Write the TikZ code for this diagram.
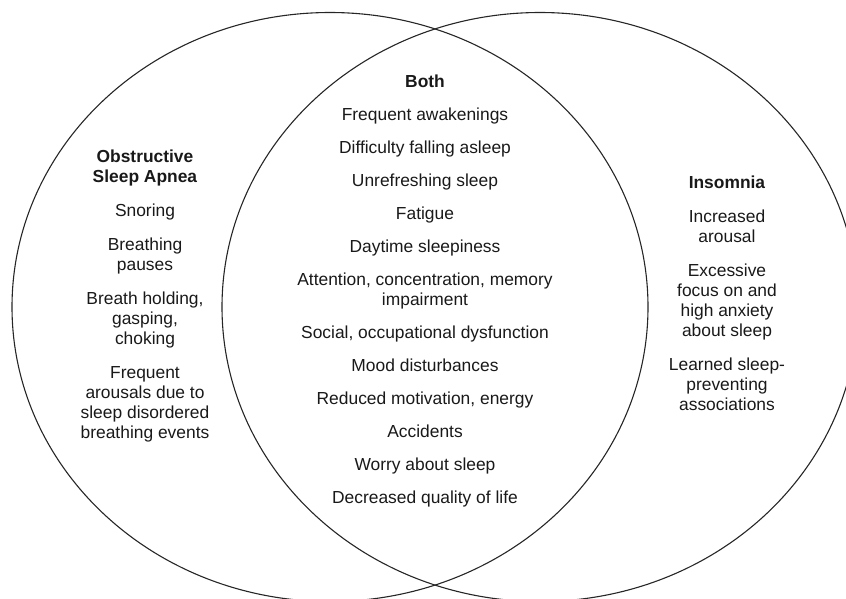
\documentclass[tikz,border=0pt]{standalone}
\usepackage{fontspec}
\setmainfont{Liberation Sans}

\begin{document}
\begin{tikzpicture}[x=1pt,y=-1pt,
  ring/.style={draw=black!85,line width=1.1pt},
  col/.style={align=center,anchor=north,inner sep=0pt,text=black!90,
              font=\fontsize{17.4}{20}\selectfont}]
  \useasboundingbox (0,0) rectangle (846,598);
  \clip (0,0) rectangle (846,598);

  \draw[ring] (330,307) ellipse [x radius=318pt,y radius=294.5pt];
  \draw[ring] (540,307) ellipse [x radius=318pt,y radius=294.5pt];

  \node[col] (osa) at (145,149.3)
       {\textbf{Obstructive}\\\textbf{Sleep Apnea}\\[14pt]
        Snoring\\[14pt]
        Breathing\\pauses\\[14pt]
        Breath holding,\\gasping,\\choking\\[14pt]
        Frequent\\arousals due to\\sleep disordered\\breathing events};

  \node[col] (both) at (425,74.3)
       {\textbf{Both}\\[13pt]
        Frequent awakenings\\[13pt]
        Difficulty falling asleep\\[13pt]
        Unrefreshing sleep\\[13pt]
        Fatigue\\[13pt]
        Daytime sleepiness\\[13pt]
        Attention, concentration, memory\\impairment\\[13pt]
        Social, occupational dysfunction\\[13pt]
        Mood disturbances\\[13pt]
        Reduced motivation, energy\\[13pt]
        Accidents\\[13pt]
        Worry about sleep\\[13pt]
        Decreased quality of life};

  \node[col] (ins) at (727,175.5)
       {\textbf{Insomnia}\\[14pt]
        Increased\\arousal\\[14pt]
        Excessive\\focus on and\\high anxiety\\about sleep\\[14pt]
        Learned sleep-\\preventing\\associations};
\end{tikzpicture}
\end{document}
